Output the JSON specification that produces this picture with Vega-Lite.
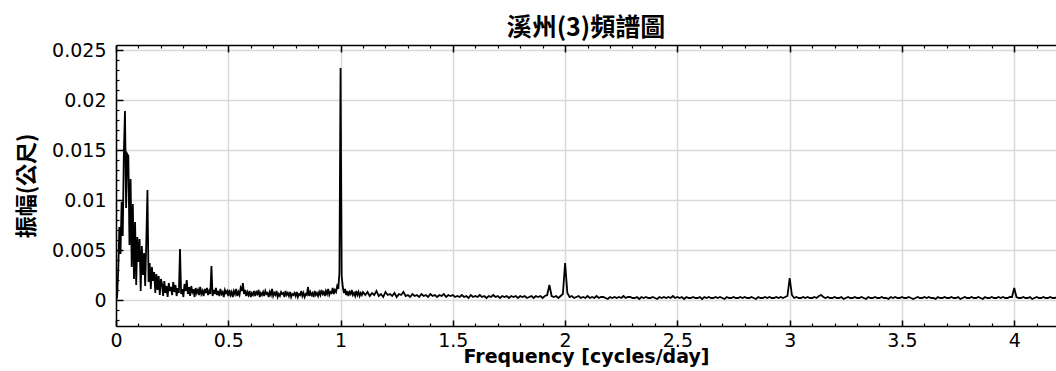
{
"$schema":"https://vega.github.io/schema/vega-lite/v6.json",
"width":940,"height":281,
"autosize":{"type":"none"},
"padding":{"left":116,"top":45,"right":0,"bottom":45},
"background":"white",
"title":{"text":"溪州(3)頻譜圖","font":"Noto Sans CJK TC","fontSize":25,"fontWeight":"bold","color":"black","anchor":"middle","frame":"group","offset":-20,"baseline":"alphabetic"},
"config":{"view":{"stroke":null},"axis":{"labelFont":"DejaVu Sans","labelFontSize":19,"labelColor":"black","titleColor":"black"}},
"data":{"values":[
{"freq":0,"amp":0},{"freq":0.005,"amp":0.0003},{"freq":0.01,"amp":0.003},{"freq":0.015,"amp":0.0073},{"freq":0.02,"amp":0.0046},{"freq":0.025,"amp":0.0098},{"freq":0.03,"amp":0.0064},{"freq":0.035,"amp":0.0148},{"freq":0.04,"amp":0.0189},{"freq":0.045,"amp":0.0092},{"freq":0.05,"amp":0.0146},{"freq":0.055,"amp":0.0144},{"freq":0.06,"amp":0.0055},{"freq":0.065,"amp":0.0121},{"freq":0.07,"amp":0.0033},{"freq":0.075,"amp":0.0096},{"freq":0.08,"amp":0.0021},{"freq":0.085,"amp":0.0078},{"freq":0.09,"amp":0.0015},{"freq":0.095,"amp":0.0063},{"freq":0.1,"amp":0.0038},{"freq":0.105,"amp":0.0061},{"freq":0.11,"amp":0.0009},{"freq":0.115,"amp":0.0054},{"freq":0.12,"amp":0.0025},{"freq":0.125,"amp":0.0047},{"freq":0.13,"amp":0.0014},{"freq":0.135,"amp":0.0059},{"freq":0.14,"amp":0.011},{"freq":0.145,"amp":0.0018},{"freq":0.15,"amp":0.0037},{"freq":0.155,"amp":0.0011},{"freq":0.16,"amp":0.0033},{"freq":0.165,"amp":0.0019},{"freq":0.17,"amp":0.0028},{"freq":0.175,"amp":0.0007},{"freq":0.18,"amp":0.0026},{"freq":0.185,"amp":0.001},{"freq":0.19,"amp":0.0024},{"freq":0.195,"amp":0.0005},{"freq":0.2,"amp":0.0021},
{"freq":0.205,"amp":0.0016},{"freq":0.21,"amp":0.0004},{"freq":0.215,"amp":0.0019},{"freq":0.22,"amp":0.0007},{"freq":0.225,"amp":0.0014},{"freq":0.23,"amp":0.0003},{"freq":0.235,"amp":0.0017},{"freq":0.24,"amp":0.0009},{"freq":0.245,"amp":0.0013},{"freq":0.25,"amp":0.0005},{"freq":0.255,"amp":0.0018},{"freq":0.26,"amp":0.0008},{"freq":0.265,"amp":0.0015},{"freq":0.27,"amp":0.0004},{"freq":0.275,"amp":0.0012},{"freq":0.28,"amp":0.0007},{"freq":0.285,"amp":0.0051},{"freq":0.29,"amp":0.0006},{"freq":0.295,"amp":0.0011},{"freq":0.3,"amp":0.0003},{"freq":0.305,"amp":0.0016},{"freq":0.31,"amp":0.0009},{"freq":0.315,"amp":0.002},{"freq":0.32,"amp":0.0006},{"freq":0.325,"amp":0.0013},{"freq":0.33,"amp":0.0004},{"freq":0.335,"amp":0.0014},{"freq":0.34,"amp":0.0008},{"freq":0.345,"amp":0.0011},{"freq":0.35,"amp":0.0003},{"freq":0.355,"amp":0.0012},{"freq":0.36,"amp":0.0007},{"freq":0.365,"amp":0.001},{"freq":0.37,"amp":0.0005},{"freq":0.375,"amp":0.0013},{"freq":0.38,"amp":0.0006},{"freq":0.385,"amp":0.0009},{"freq":0.39,"amp":0.0004},{"freq":0.395,"amp":0.0011},{"freq":0.4,"amp":0.0007},{"freq":0.405,"amp":0.0012},{"freq":0.41,"amp":0.0005},{"freq":0.415,"amp":0.0009},{"freq":0.42,"amp":0.0006},{"freq":0.425,"amp":0.0034},{"freq":0.43,"amp":0.0004},{"freq":0.435,"amp":0.001},{"freq":0.44,"amp":0.0006},{"freq":0.445,"amp":0.0012},{"freq":0.45,"amp":0.0005},{"freq":0.455,"amp":0.0009},{"freq":0.46,"amp":0.0004},{"freq":0.465,"amp":0.0011},{"freq":0.47,"amp":0.0006},{"freq":0.475,"amp":0.0008},{"freq":0.48,"amp":0.0003},{"freq":0.485,"amp":0.001},{"freq":0.49,"amp":0.0007},{"freq":0.495,"amp":0.0009},{"freq":0.5,"amp":0.0004},
{"freq":0.505,"amp":0.001},{"freq":0.51,"amp":0.0005},{"freq":0.515,"amp":0.0008},{"freq":0.52,"amp":0.0003},{"freq":0.525,"amp":0.0009},{"freq":0.53,"amp":0.0006},{"freq":0.535,"amp":0.0011},{"freq":0.54,"amp":0.0004},{"freq":0.545,"amp":0.0008},{"freq":0.55,"amp":0.0005},{"freq":0.555,"amp":0.0012},{"freq":0.56,"amp":0.0009},{"freq":0.565,"amp":0.0017},{"freq":0.57,"amp":0.0006},{"freq":0.575,"amp":0.001},{"freq":0.58,"amp":0.0004},{"freq":0.585,"amp":0.0008},{"freq":0.59,"amp":0.0005},{"freq":0.595,"amp":0.0009},{"freq":0.6,"amp":0.0003},{"freq":0.605,"amp":0.0007},{"freq":0.61,"amp":0.0005},{"freq":0.615,"amp":0.0009},{"freq":0.62,"amp":0.0004},{"freq":0.625,"amp":0.0008},{"freq":0.63,"amp":0.0006},{"freq":0.635,"amp":0.001},{"freq":0.64,"amp":0.0003},{"freq":0.645,"amp":0.0007},{"freq":0.65,"amp":0.0005},{"freq":0.655,"amp":0.0008},{"freq":0.66,"amp":0.0004},{"freq":0.665,"amp":0.0009},{"freq":0.67,"amp":0.0006},{"freq":0.675,"amp":0.0007},{"freq":0.68,"amp":0.0003},{"freq":0.685,"amp":0.0008},{"freq":0.69,"amp":0.0005},{"freq":0.695,"amp":0.0011},{"freq":0.7,"amp":0.0004},{"freq":0.705,"amp":0.0007},{"freq":0.71,"amp":0.0005},{"freq":0.715,"amp":0.0009},{"freq":0.72,"amp":0.0003},{"freq":0.725,"amp":0.0006},{"freq":0.73,"amp":0.0004},{"freq":0.735,"amp":0.0008},{"freq":0.74,"amp":0.0006},{"freq":0.745,"amp":0.0007},{"freq":0.75,"amp":0.0003},{"freq":0.755,"amp":0.0009},{"freq":0.76,"amp":0.0005},{"freq":0.765,"amp":0.0007},{"freq":0.77,"amp":0.0004},{"freq":0.775,"amp":0.0008},{"freq":0.78,"amp":0.0003},{"freq":0.785,"amp":0.0006},{"freq":0.79,"amp":0.0005},{"freq":0.795,"amp":0.0007},{"freq":0.8,"amp":0.0004},{"freq":0.805,"amp":0.0008},{"freq":0.81,"amp":0.0003},{"freq":0.815,"amp":0.0006},{"freq":0.82,"amp":0.0005},{"freq":0.825,"amp":0.0009},{"freq":0.83,"amp":0.0004},{"freq":0.835,"amp":0.0007},{"freq":0.84,"amp":0.0003},{"freq":0.845,"amp":0.0006},{"freq":0.85,"amp":0.0005},{"freq":0.855,"amp":0.0013},{"freq":0.86,"amp":0.0004},{"freq":0.865,"amp":0.0008},{"freq":0.87,"amp":0.0005},{"freq":0.875,"amp":0.0007},{"freq":0.88,"amp":0.0003},{"freq":0.885,"amp":0.0009},{"freq":0.89,"amp":0.0005},{"freq":0.895,"amp":0.0007},{"freq":0.9,"amp":0.0004},{"freq":0.905,"amp":0.0008},{"freq":0.91,"amp":0.0005},{"freq":0.915,"amp":0.001},{"freq":0.92,"amp":0.0006},{"freq":0.925,"amp":0.0008},{"freq":0.93,"amp":0.0004},{"freq":0.935,"amp":0.0009},{"freq":0.94,"amp":0.0006},{"freq":0.945,"amp":0.0011},{"freq":0.95,"amp":0.0005},{"freq":0.955,"amp":0.0008},{"freq":0.96,"amp":0.0007},{"freq":0.965,"amp":0.0012},{"freq":0.97,"amp":0.0006},{"freq":0.975,"amp":0.001},{"freq":0.98,"amp":0.0008},{"freq":0.985,"amp":0.0014},{"freq":0.99,"amp":0.0011},{"freq":0.995,"amp":0.0028},{"freq":1.0,"amp":0.0232},{"freq":1.005,"amp":0.0024},{"freq":1.01,"amp":0.0013},{"freq":1.015,"amp":0.0007},{"freq":1.02,"amp":0.0011},{"freq":1.025,"amp":0.0005},{"freq":1.03,"amp":0.0009},{"freq":1.035,"amp":0.0004},{"freq":1.04,"amp":0.0008},{"freq":1.045,"amp":0.0006},{"freq":1.05,"amp":0.001},{"freq":1.055,"amp":0.0005},{"freq":1.06,"amp":0.0007},{"freq":1.065,"amp":0.0004},{"freq":1.07,"amp":0.0009},{"freq":1.075,"amp":0.0005},{"freq":1.08,"amp":0.0008},{"freq":1.085,"amp":0.0004},{"freq":1.09,"amp":0.0007},{"freq":1.095,"amp":0.0005},{"freq":1.1,"amp":0.0008},
{"freq":1.11,"amp":0.0005},{"freq":1.12,"amp":0.0008},{"freq":1.13,"amp":0.0004},{"freq":1.14,"amp":0.0007},{"freq":1.15,"amp":0.0005},{"freq":1.16,"amp":0.0009},{"freq":1.17,"amp":0.0004},{"freq":1.18,"amp":0.0006},{"freq":1.19,"amp":0.0003},{"freq":1.2,"amp":0.0008},
{"freq":1.21,"amp":0.0005},{"freq":1.22,"amp":0.0006},{"freq":1.23,"amp":0.0004},{"freq":1.24,"amp":0.0007},{"freq":1.25,"amp":0.0003},{"freq":1.26,"amp":0.0006},{"freq":1.27,"amp":0.0005},{"freq":1.28,"amp":0.0008},{"freq":1.29,"amp":0.0004},{"freq":1.3,"amp":0.0005},
{"freq":1.31,"amp":0.0003},{"freq":1.32,"amp":0.0006},{"freq":1.33,"amp":0.0004},{"freq":1.34,"amp":0.0005},{"freq":1.35,"amp":0.0003},{"freq":1.36,"amp":0.0006},{"freq":1.37,"amp":0.0004},{"freq":1.38,"amp":0.0005},{"freq":1.39,"amp":0.0003},{"freq":1.4,"amp":0.0006},
{"freq":1.41,"amp":0.0004},{"freq":1.42,"amp":0.0005},{"freq":1.43,"amp":0.0003},{"freq":1.44,"amp":0.0005},{"freq":1.45,"amp":0.0004},{"freq":1.46,"amp":0.0006},{"freq":1.47,"amp":0.0003},{"freq":1.48,"amp":0.0005},{"freq":1.49,"amp":0.0004},{"freq":1.5,"amp":0.0005},
{"freq":1.51,"amp":0.0003},{"freq":1.52,"amp":0.0004},{"freq":1.53,"amp":0.0003},{"freq":1.54,"amp":0.0005},{"freq":1.55,"amp":0.0003},{"freq":1.56,"amp":0.0004},{"freq":1.57,"amp":0.0002},{"freq":1.58,"amp":0.0005},{"freq":1.59,"amp":0.0003},{"freq":1.6,"amp":0.0004},
{"freq":1.61,"amp":0.0003},{"freq":1.62,"amp":0.0005},{"freq":1.63,"amp":0.0003},{"freq":1.64,"amp":0.0004},{"freq":1.65,"amp":0.0002},{"freq":1.66,"amp":0.0004},{"freq":1.67,"amp":0.0003},{"freq":1.68,"amp":0.0005},{"freq":1.69,"amp":0.0003},{"freq":1.7,"amp":0.0004},
{"freq":1.71,"amp":0.0002},{"freq":1.72,"amp":0.0004},{"freq":1.73,"amp":0.0003},{"freq":1.74,"amp":0.0004},{"freq":1.75,"amp":0.0002},{"freq":1.76,"amp":0.0004},{"freq":1.77,"amp":0.0003},{"freq":1.78,"amp":0.0004},{"freq":1.79,"amp":0.0002},{"freq":1.8,"amp":0.0004},
{"freq":1.81,"amp":0.0003},{"freq":1.82,"amp":0.0004},{"freq":1.83,"amp":0.0002},{"freq":1.84,"amp":0.0003},{"freq":1.85,"amp":0.0004},{"freq":1.86,"amp":0.0002},{"freq":1.87,"amp":0.0004},{"freq":1.88,"amp":0.0003},{"freq":1.89,"amp":0.0004},{"freq":1.9,"amp":0.0002},
{"freq":1.91,"amp":0.0004},{"freq":1.92,"amp":0.0005},{"freq":1.93,"amp":0.0015},{"freq":1.94,"amp":0.0004},{"freq":1.95,"amp":0.0003},{"freq":1.96,"amp":0.0004},{"freq":1.97,"amp":0.0002},{"freq":1.98,"amp":0.0004},{"freq":1.99,"amp":0.0006},{"freq":2.0,"amp":0.0037},
{"freq":2.01,"amp":0.0007},{"freq":2.02,"amp":0.0003},{"freq":2.03,"amp":0.0004},{"freq":2.04,"amp":0.0002},{"freq":2.05,"amp":0.0003},{"freq":2.06,"amp":0.0004},{"freq":2.07,"amp":0.0002},{"freq":2.08,"amp":0.0003},{"freq":2.09,"amp":0.0002},{"freq":2.1,"amp":0.0004},
{"freq":2.11,"amp":0.0002},{"freq":2.12,"amp":0.0003},{"freq":2.13,"amp":0.0002},{"freq":2.14,"amp":0.0004},{"freq":2.15,"amp":0.0002},{"freq":2.16,"amp":0.0003},{"freq":2.17,"amp":0.0003},{"freq":2.18,"amp":0.0002},{"freq":2.19,"amp":0.0001},{"freq":2.2,"amp":0.0003},
{"freq":2.21,"amp":0.0002},{"freq":2.22,"amp":0.0003},{"freq":2.23,"amp":0.0002},{"freq":2.24,"amp":0.0003},{"freq":2.25,"amp":0.0002},{"freq":2.26,"amp":0.0004},{"freq":2.27,"amp":0.0002},{"freq":2.28,"amp":0.0003},{"freq":2.29,"amp":0.0003},{"freq":2.3,"amp":0.0002},
{"freq":2.31,"amp":0.0002},{"freq":2.32,"amp":0.0003},{"freq":2.33,"amp":0.0001},{"freq":2.34,"amp":0.0003},{"freq":2.35,"amp":0.0002},{"freq":2.36,"amp":0.0003},{"freq":2.37,"amp":0.0002},{"freq":2.38,"amp":0.0002},{"freq":2.39,"amp":0.0003},{"freq":2.4,"amp":0.0002},
{"freq":2.41,"amp":0.0001},{"freq":2.42,"amp":0.0003},{"freq":2.43,"amp":0.0002},{"freq":2.44,"amp":0.0003},{"freq":2.45,"amp":0.0002},{"freq":2.46,"amp":0.0003},{"freq":2.47,"amp":0.0002},{"freq":2.48,"amp":0.0004},{"freq":2.49,"amp":0.0002},{"freq":2.5,"amp":0.0003},
{"freq":2.51,"amp":0.0002},{"freq":2.52,"amp":0.0003},{"freq":2.53,"amp":0.0001},{"freq":2.54,"amp":0.0003},{"freq":2.55,"amp":0.0002},{"freq":2.56,"amp":0.0002},{"freq":2.57,"amp":0.0003},{"freq":2.58,"amp":0.0002},{"freq":2.59,"amp":0.0002},{"freq":2.6,"amp":0.0003},
{"freq":2.61,"amp":0.0001},{"freq":2.62,"amp":0.0003},{"freq":2.63,"amp":0.0002},{"freq":2.64,"amp":0.0003},{"freq":2.65,"amp":0.0002},{"freq":2.66,"amp":0.0002},{"freq":2.67,"amp":0.0003},{"freq":2.68,"amp":0.0002},{"freq":2.69,"amp":0.0003},{"freq":2.7,"amp":0.0002},
{"freq":2.71,"amp":0.0001},{"freq":2.72,"amp":0.0003},{"freq":2.73,"amp":0.0002},{"freq":2.74,"amp":0.0002},{"freq":2.75,"amp":0.0003},{"freq":2.76,"amp":0.0002},{"freq":2.77,"amp":0.0002},{"freq":2.78,"amp":0.0003},{"freq":2.79,"amp":0.0002},{"freq":2.8,"amp":0.0003},
{"freq":2.81,"amp":0.0002},{"freq":2.82,"amp":0.0002},{"freq":2.83,"amp":0.0003},{"freq":2.84,"amp":0.0002},{"freq":2.85,"amp":0.0001},{"freq":2.86,"amp":0.0003},{"freq":2.87,"amp":0.0002},{"freq":2.88,"amp":0.0002},{"freq":2.89,"amp":0.0003},{"freq":2.9,"amp":0.0002},
{"freq":2.91,"amp":0.0003},{"freq":2.92,"amp":0.0002},{"freq":2.93,"amp":0.0002},{"freq":2.94,"amp":0.0003},{"freq":2.95,"amp":0.0002},{"freq":2.96,"amp":0.0003},{"freq":2.97,"amp":0.0002},{"freq":2.98,"amp":0.0003},{"freq":2.99,"amp":0.0004},{"freq":3.0,"amp":0.0022},
{"freq":3.01,"amp":0.0005},{"freq":3.02,"amp":0.0002},{"freq":3.03,"amp":0.0003},{"freq":3.04,"amp":0.0002},{"freq":3.05,"amp":0.0002},{"freq":3.06,"amp":0.0003},{"freq":3.07,"amp":0.0002},{"freq":3.08,"amp":0.0003},{"freq":3.09,"amp":0.0002},{"freq":3.1,"amp":0.0002},
{"freq":3.11,"amp":0.0003},{"freq":3.12,"amp":0.0002},{"freq":3.13,"amp":0.0004},{"freq":3.14,"amp":0.0005},{"freq":3.15,"amp":0.0003},{"freq":3.16,"amp":0.0002},{"freq":3.17,"amp":0.0003},{"freq":3.18,"amp":0.0002},{"freq":3.19,"amp":0.0002},{"freq":3.2,"amp":0.0003},
{"freq":3.21,"amp":0.0002},{"freq":3.22,"amp":0.0002},{"freq":3.23,"amp":0.0003},{"freq":3.24,"amp":0.0001},{"freq":3.25,"amp":0.0002},{"freq":3.26,"amp":0.0003},{"freq":3.27,"amp":0.0002},{"freq":3.28,"amp":0.0002},{"freq":3.29,"amp":0.0003},{"freq":3.3,"amp":0.0002},
{"freq":3.31,"amp":0.0002},{"freq":3.32,"amp":0.0003},{"freq":3.33,"amp":0.0002},{"freq":3.34,"amp":0.0001},{"freq":3.35,"amp":0.0003},{"freq":3.36,"amp":0.0002},{"freq":3.37,"amp":0.0002},{"freq":3.38,"amp":0.0003},{"freq":3.39,"amp":0.0002},{"freq":3.4,"amp":0.0002},
{"freq":3.41,"amp":0.0003},{"freq":3.42,"amp":0.0002},{"freq":3.43,"amp":0.0002},{"freq":3.44,"amp":0.0001},{"freq":3.45,"amp":0.0003},{"freq":3.46,"amp":0.0002},{"freq":3.47,"amp":0.0003},{"freq":3.48,"amp":0.0002},{"freq":3.49,"amp":0.0002},{"freq":3.5,"amp":0.0003},
{"freq":3.51,"amp":0.0002},{"freq":3.52,"amp":0.0002},{"freq":3.53,"amp":0.0003},{"freq":3.54,"amp":0.0002},{"freq":3.55,"amp":0.0001},{"freq":3.56,"amp":0.0002},{"freq":3.57,"amp":0.0003},{"freq":3.58,"amp":0.0002},{"freq":3.59,"amp":0.0002},{"freq":3.6,"amp":0.0003},
{"freq":3.61,"amp":0.0002},{"freq":3.62,"amp":0.0003},{"freq":3.63,"amp":0.0002},{"freq":3.64,"amp":0.0002},{"freq":3.65,"amp":0.0001},{"freq":3.66,"amp":0.0003},{"freq":3.67,"amp":0.0002},{"freq":3.68,"amp":0.0002},{"freq":3.69,"amp":0.0003},{"freq":3.7,"amp":0.0002},
{"freq":3.71,"amp":0.0002},{"freq":3.72,"amp":0.0003},{"freq":3.73,"amp":0.0002},{"freq":3.74,"amp":0.0002},{"freq":3.75,"amp":0.0003},{"freq":3.76,"amp":0.0001},{"freq":3.77,"amp":0.0002},{"freq":3.78,"amp":0.0003},{"freq":3.79,"amp":0.0002},{"freq":3.8,"amp":0.0002},
{"freq":3.81,"amp":0.0003},{"freq":3.82,"amp":0.0002},{"freq":3.83,"amp":0.0002},{"freq":3.84,"amp":0.0003},{"freq":3.85,"amp":0.0002},{"freq":3.86,"amp":0.0001},{"freq":3.87,"amp":0.0003},{"freq":3.88,"amp":0.0002},{"freq":3.89,"amp":0.0002},{"freq":3.9,"amp":0.0003},
{"freq":3.91,"amp":0.0002},{"freq":3.92,"amp":0.0002},{"freq":3.93,"amp":0.0003},{"freq":3.94,"amp":0.0002},{"freq":3.95,"amp":0.0003},{"freq":3.96,"amp":0.0002},{"freq":3.97,"amp":0.0002},{"freq":3.98,"amp":0.0003},{"freq":3.99,"amp":0.0003},{"freq":4.0,"amp":0.0012},
{"freq":4.01,"amp":0.0003},{"freq":4.02,"amp":0.0002},{"freq":4.03,"amp":0.0002},{"freq":4.04,"amp":0.0003},{"freq":4.05,"amp":0.0002},{"freq":4.06,"amp":0.0002},{"freq":4.07,"amp":0.0003},{"freq":4.08,"amp":0.0001},{"freq":4.09,"amp":0.0002},{"freq":4.1,"amp":0.0003},
{"freq":4.11,"amp":0.0002},{"freq":4.12,"amp":0.0002},{"freq":4.13,"amp":0.0003},{"freq":4.14,"amp":0.0002},{"freq":4.15,"amp":0.0002},{"freq":4.16,"amp":0.0003},{"freq":4.17,"amp":0.0002},{"freq":4.18,"amp":0.0002},{"freq":4.19,"amp":0.0003}
]},
"layer":[
{"mark":{"type":"line","color":"black","strokeWidth":1.8,"clip":true},
 "encoding":{
  "x":{"field":"freq","type":"quantitative","scale":{"domain":[0,4.186],"nice":false,"zero":false},
   "axis":{"orient":"bottom","values":[0,0.5,1,1.5,2,2.5,3,3.5,4],"format":"~g","grid":true,"gridColor":"#d9d9d9","gridWidth":1.5,"ticks":false,"domain":true,"domainColor":"black","domainWidth":1.5,"labelPadding":5,"labelFlush":false,"title":"Frequency [cycles/day]","titleFont":"DejaVu Sans","titleFontSize":19,"titleFontWeight":"bold","titleY":21}},
  "y":{"field":"amp","type":"quantitative","scale":{"domain":[-0.0026,0.0255],"nice":false,"zero":false},
   "axis":{"orient":"left","values":[0,0.005,0.01,0.015,0.02,0.025],"format":"~g","grid":true,"gridColor":"#d9d9d9","gridWidth":1.5,"ticks":false,"domain":true,"domainColor":"black","domainWidth":1.5,"labelPadding":10,"labelFlush":false,"title":"振幅(公尺)","titleFont":"Noto Sans CJK TC","titleFontSize":22,"titleFontWeight":"bold","titleX":-78,"titleY":140.5}}
 }},
{"mark":{"type":"point","opacity":0},
 "encoding":{
  "x":{"field":"freq","type":"quantitative","scale":{"domain":[0,4.186],"nice":false,"zero":false},
   "axis":{"orient":"bottom","values":[0,0.5,1,1.5,2,2.5,3,3.5,4],"labels":false,"grid":false,"domain":false,"ticks":true,"tickSize":-6,"tickColor":"black","tickWidth":1.5,"title":null}},
  "y":{"field":"amp","type":"quantitative","scale":{"domain":[-0.0026,0.0255],"nice":false,"zero":false},
   "axis":{"orient":"left","values":[0,0.005,0.01,0.015,0.02,0.025],"labels":false,"grid":false,"domain":false,"ticks":true,"tickSize":-7,"tickColor":"black","tickWidth":1.5,"title":null}}
 }},
{"mark":{"type":"point","opacity":0},
 "encoding":{
  "x":{"field":"freq","type":"quantitative","scale":{"domain":[0,4.186],"nice":false,"zero":false},
   "axis":{"orient":"bottom","values":[0.1,0.2,0.3,0.4,0.6,0.7,0.8,0.9,1.1,1.2,1.3,1.4,1.6,1.7,1.8,1.9,2.1,2.2,2.3,2.4,2.6,2.7,2.8,2.9,3.1,3.2,3.3,3.4,3.6,3.7,3.8,3.9,4.1],"labels":false,"grid":false,"domain":false,"ticks":true,"tickSize":-3,"tickColor":"black","tickWidth":1.2,"title":null}},
  "y":{"field":"amp","type":"quantitative","scale":{"domain":[-0.0026,0.0255],"nice":false,"zero":false},
   "axis":{"orient":"left","values":[-0.002,-0.001,0.001,0.002,0.003,0.004,0.006,0.007,0.008,0.009,0.011,0.012,0.013,0.014,0.016,0.017,0.018,0.019,0.021,0.022,0.023,0.024],"labels":false,"grid":false,"domain":false,"ticks":true,"tickSize":-3,"tickColor":"black","tickWidth":1.2,"title":null}}
 }},
{"mark":{"type":"point","opacity":0},
 "encoding":{
  "x":{"field":"freq","type":"quantitative","scale":{"domain":[0,4.186],"nice":false,"zero":false},
   "axis":{"orient":"top","values":[0,0.5,1,1.5,2,2.5,3,3.5,4],"labels":false,"grid":false,"domain":true,"domainColor":"black","domainWidth":1.5,"ticks":true,"tickSize":-7,"tickColor":"black","tickWidth":1.5,"title":null}},
  "y":{"field":"amp","type":"quantitative","scale":{"domain":[-0.0026,0.0255],"nice":false,"zero":false},"axis":null}
 }},
{"mark":{"type":"point","opacity":0},
 "encoding":{
  "x":{"field":"freq","type":"quantitative","scale":{"domain":[0,4.186],"nice":false,"zero":false},
   "axis":{"orient":"top","values":[0.1,0.2,0.3,0.4,0.6,0.7,0.8,0.9,1.1,1.2,1.3,1.4,1.6,1.7,1.8,1.9,2.1,2.2,2.3,2.4,2.6,2.7,2.8,2.9,3.1,3.2,3.3,3.4,3.6,3.7,3.8,3.9,4.1],"labels":false,"grid":false,"domain":false,"ticks":true,"tickSize":-3,"tickColor":"black","tickWidth":1.2,"title":null}},
  "y":{"field":"amp","type":"quantitative","scale":{"domain":[-0.0026,0.0255],"nice":false,"zero":false},"axis":null}
 }}
],
"resolve":{"axis":{"x":"independent","y":"independent"}}
}
